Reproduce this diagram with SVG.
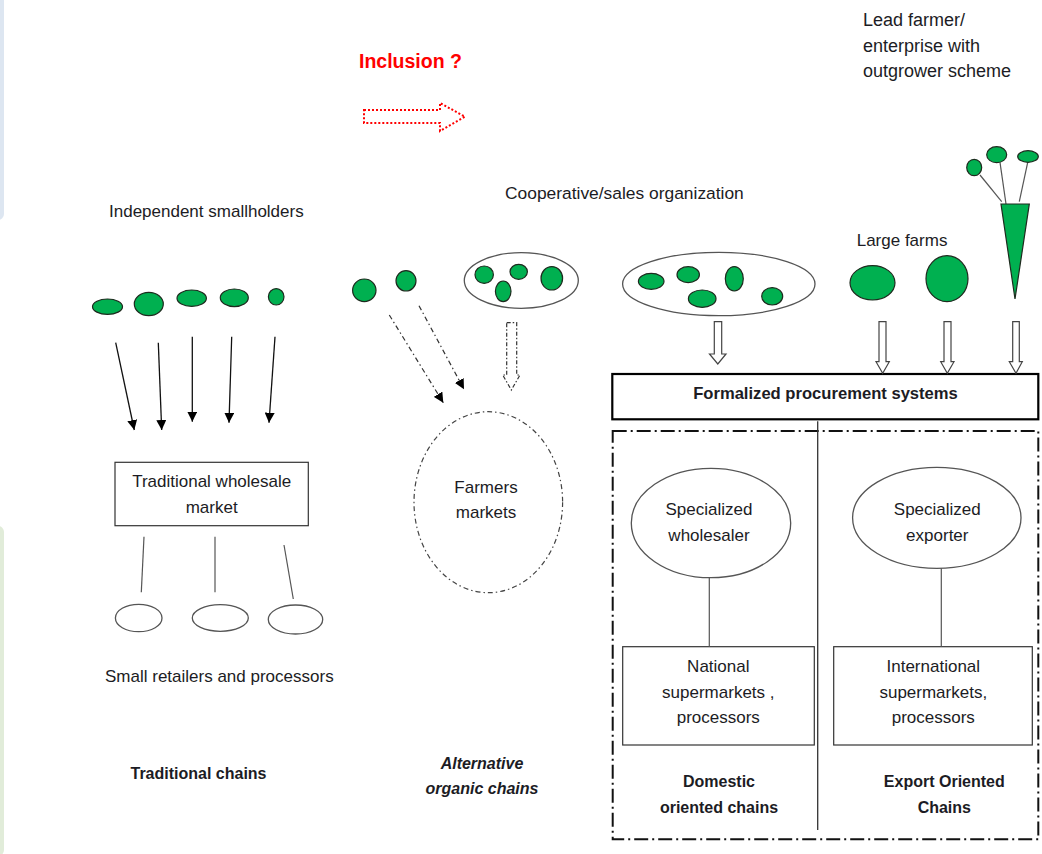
<svg xmlns="http://www.w3.org/2000/svg" width="1042" height="854" viewBox="0 0 1042 854">
<style>
  text { font-family: "Liberation Sans", Arial, sans-serif; font-size: 17px; fill: #1c1c24; }
  .b { font-weight: bold; font-size: 16px; }
  .bi { font-weight: bold; font-style: italic; font-size: 16px; }
  .red { fill: #ff0000; font-weight: bold; font-size: 19.5px; }
  .farm { fill: #00b050; stroke: #1e2a1e; stroke-width: 1.2; }
  .grp { fill: #ffffff; stroke: #555555; stroke-width: 1.3; }
  .box { fill: #ffffff; stroke: #333333; stroke-width: 1.2; }
  .conn { stroke: #111111; stroke-width: 1.3; fill: none; }
  .thin { stroke: #555555; stroke-width: 1.2; fill: none; }
  .dd { stroke: #333333; stroke-width: 1.2; fill: none; stroke-dasharray: 5 3 1.5 3; }
  .hollow { fill: #ffffff; stroke: #444444; stroke-width: 1.2; }
</style>
<defs>
  <marker id="tri" viewBox="0 0 10 10" refX="10" refY="5" markerWidth="10" markerHeight="10" markerUnits="userSpaceOnUse" orient="auto">
    <path d="M0,0 L10,5 L0,10 Z" fill="#000000"/>
  </marker>
</defs>

<!-- background side panels -->
<rect x="-12" y="-10" width="16" height="230" rx="6" fill="#dde6f1"/>
<rect x="-12" y="526" width="16" height="330" rx="6" fill="#e1ecd9"/>

<!-- Inclusion -->
<g id="inclusion">
  <text class="red" x="359" y="68">Inclusion ?</text>
  <path d="M364,110 L440,110 L440,103 L465,116.7 L440,131 L440,123 L364,123 Z" fill="none" stroke="#ff0000" stroke-width="2" stroke-dasharray="2 2"/>
</g>

<!-- Independent smallholders -->
<g id="smallholders">
  <text x="109" y="217">Independent smallholders</text>
  <ellipse class="farm" cx="107.5" cy="306.7" rx="15" ry="7.7"/>
  <ellipse class="farm" cx="148.8" cy="304" rx="14.5" ry="11.7"/>
  <ellipse class="farm" cx="191.7" cy="298.2" rx="14.7" ry="8.2"/>
  <ellipse class="farm" cx="234.3" cy="297.8" rx="14" ry="8.8"/>
  <ellipse class="farm" cx="276.2" cy="296.8" rx="7.8" ry="8.2"/>
</g>

<!-- Individual farmers for organic -->
<g id="organic-farmers">
  <ellipse class="farm" cx="364.3" cy="290.3" rx="11.7" ry="11.3"/>
  <ellipse class="farm" cx="406" cy="280.8" rx="10" ry="10.2"/>
</g>

<!-- Small cooperative -->
<g id="coop-small">
  <ellipse class="grp" cx="521.3" cy="280.5" rx="57" ry="27.8"/>
  <ellipse class="farm" cx="484.2" cy="274.7" rx="9.2" ry="8.7"/>
  <ellipse class="farm" cx="518.7" cy="271.8" rx="8.7" ry="7.5"/>
  <ellipse class="farm" cx="503.2" cy="291.3" rx="7.8" ry="10.3"/>
  <ellipse class="farm" cx="551.8" cy="278.3" rx="10.8" ry="11.7"/>
</g>

<!-- Large cooperative -->
<g id="coop-large">
  <text x="505" y="199" style="font-size:17.4px">Cooperative/sales organization</text>
  <ellipse class="grp" cx="718.8" cy="284" rx="96.2" ry="31.7"/>
  <ellipse class="farm" cx="651.2" cy="281.3" rx="12.8" ry="8"/>
  <ellipse class="farm" cx="688.2" cy="274.7" rx="11.2" ry="8"/>
  <ellipse class="farm" cx="734.3" cy="278.8" rx="9" ry="12.2"/>
  <ellipse class="farm" cx="702.2" cy="298.7" rx="13.8" ry="8.7"/>
  <ellipse class="farm" cx="772.2" cy="296.3" rx="10.5" ry="8.7"/>
</g>

<!-- Large farms -->
<g id="large-farms">
  <text x="856.7" y="246">Large farms</text>
  <ellipse class="farm" cx="872.5" cy="282.8" rx="22.5" ry="17.2"/>
  <ellipse class="farm" cx="947" cy="278.7" rx="21" ry="23"/>
</g>

<!-- Lead farmer / outgrower -->
<g id="lead-farmer">
  <text x="863" y="26" style="font-size:18px">Lead farmer/</text>
  <text x="863" y="51.7" style="font-size:18px">enterprise with</text>
  <text x="863" y="77.3" style="font-size:18px">outgrower scheme</text>
  <line class="thin" x1="980" y1="175" x2="1001.7" y2="201.7"/>
  <line class="thin" x1="1000" y1="162.3" x2="1006" y2="204"/>
  <line class="thin" x1="1027.7" y1="162.3" x2="1019.3" y2="201.7"/>
  <ellipse class="farm" cx="974.2" cy="167.5" rx="7.5" ry="8.2"/>
  <ellipse class="farm" cx="996.7" cy="154.7" rx="10" ry="8"/>
  <ellipse class="farm" cx="1028" cy="156.5" rx="10.3" ry="5.8"/>
  <path class="farm" d="M1001,204 L1029.3,204 L1015,299 Z"/>
</g>

<!-- Traditional wholesale market -->
<g id="wholesale-market">
  <rect class="box" x="115" y="462.3" width="193.3" height="63.4"/>
  <text x="211.7" y="486.7" text-anchor="middle">Traditional wholesale</text>
  <text x="211.7" y="512.7" text-anchor="middle">market</text>
</g>

<!-- Small retailers -->
<g id="small-retailers">
  <ellipse class="grp" cx="138.7" cy="618" rx="23.3" ry="13.7"/>
  <ellipse class="grp" cx="220.3" cy="618" rx="28" ry="13.3"/>
  <ellipse class="grp" cx="295.5" cy="619.5" rx="27.2" ry="14.5"/>
  <text x="105" y="682">Small retailers and processors</text>
</g>

<!-- Farmers markets -->
<g id="farmers-markets">
  <ellipse cx="488.3" cy="502.2" rx="74.3" ry="90.5" fill="none" stroke="#444444" stroke-width="1.2" stroke-dasharray="5 3 1.5 3"/>
  <text x="486" y="493.3" text-anchor="middle">Farmers</text>
  <text x="486" y="518.3" text-anchor="middle">markets</text>
</g>

<!-- Formalized procurement -->
<g id="formalized">
  <rect x="612.3" y="374" width="426" height="45.3" fill="#ffffff" stroke="#000000" stroke-width="2.2"/>
  <text class="b" x="825.5" y="399.3" text-anchor="middle" style="font-size:16.6px">Formalized procurement systems</text>
</g>

<!-- Modern chains frame -->
<g id="modern-frame">
  <rect x="612.7" y="431" width="425.6" height="408.3" fill="none" stroke="#111111" stroke-width="2" stroke-dasharray="14 4 2 4"/>
  <line x1="817.7" y1="421.3" x2="817.7" y2="830" stroke="#333333" stroke-width="1.3"/>
</g>

<g id="specialized-wholesaler">
  <ellipse class="grp" cx="711" cy="523" rx="79.7" ry="54.7"/>
  <text x="709" y="515" text-anchor="middle">Specialized</text>
  <text x="709" y="540.7" text-anchor="middle">wholesaler</text>
</g>

<g id="specialized-exporter">
  <ellipse class="grp" cx="936.8" cy="517.8" rx="84.2" ry="50.5"/>
  <text x="937.3" y="515" text-anchor="middle">Specialized</text>
  <text x="937.3" y="540.7" text-anchor="middle">exporter</text>
</g>

<g id="national-supermarkets">
  <rect class="box" x="622.7" y="646.7" width="191.6" height="98.3"/>
  <text x="718.3" y="671.7" text-anchor="middle">National</text>
  <text x="718.3" y="697.7" text-anchor="middle">supermarkets ,</text>
  <text x="718.3" y="723.3" text-anchor="middle">processors</text>
</g>

<g id="international-supermarkets">
  <rect class="box" x="833.7" y="646.7" width="198.6" height="98.3"/>
  <text x="933.3" y="671.7" text-anchor="middle">International</text>
  <text x="933.3" y="697.7" text-anchor="middle">supermarkets,</text>
  <text x="933.3" y="723.3" text-anchor="middle">processors</text>
</g>

<!-- chain labels -->
<g id="label-traditional">
  <text class="b" x="198.5" y="779" text-anchor="middle">Traditional chains</text>
</g>
<g id="label-alternative">
  <text class="bi" x="482" y="769" text-anchor="middle">Alternative</text>
  <text class="bi" x="482" y="794" text-anchor="middle">organic chains</text>
</g>
<g id="label-domestic">
  <text class="b" x="719" y="787.3" text-anchor="middle">Domestic</text>
  <text class="b" x="719" y="813.3" text-anchor="middle">oriented chains</text>
</g>
<g id="label-export">
  <text class="b" x="944.3" y="787.3" text-anchor="middle">Export Oriented</text>
  <text class="b" x="944.3" y="813.3" text-anchor="middle">Chains</text>
</g>

<!-- Connectors -->
<g id="connectors">
  <line class="conn" x1="115.7" y1="342.7" x2="134.3" y2="430" marker-end="url(#tri)"/>
  <line class="conn" x1="158.3" y1="342.7" x2="161.7" y2="430" marker-end="url(#tri)"/>
  <line class="conn" x1="192.3" y1="336.7" x2="192.3" y2="421.7" marker-end="url(#tri)"/>
  <line class="conn" x1="231.7" y1="336.7" x2="229" y2="422.7" marker-end="url(#tri)"/>
  <line class="conn" x1="275" y1="336.7" x2="269" y2="422.7" marker-end="url(#tri)"/>

  <line class="thin" x1="144" y1="536.7" x2="141.3" y2="592.3"/>
  <line class="thin" x1="215" y1="536.7" x2="215" y2="592.3"/>
  <line class="thin" x1="284" y1="545" x2="293.3" y2="599"/>

  <line class="dd" x1="389.3" y1="315" x2="443.3" y2="402.7" marker-end="url(#tri)"/>
  <line class="dd" x1="419" y1="305.7" x2="464" y2="389.3" marker-end="url(#tri)"/>
  <path d="M506.7,322.7 L516.7,322.7 L516.7,375 L520,375 L511.3,390 L502.7,375 L506.7,375 Z" fill="#ffffff" stroke="#333333" stroke-width="1.2" stroke-dasharray="4 2 1.5 2"/>

  <path class="hollow" d="M714.3,321.7 L721.7,321.7 L721.7,354 L726,354 L717.8,364 L709.5,354 L714.3,354 Z"/>
  <path class="hollow" d="M879,321.7 L886,321.7 L886,361.7 L889.3,361.7 L882.7,373.3 L876,361.7 L879,361.7 Z"/>
  <path class="hollow" d="M944,321.7 L951,321.7 L951,361.7 L954,361.7 L947.3,373.3 L940.7,361.7 L944,361.7 Z"/>
  <path class="hollow" d="M1012.7,321.7 L1019.3,321.7 L1019.3,361.7 L1022.3,361.7 L1016,373.3 L1009.3,361.7 L1012.7,361.7 Z"/>

  <line class="thin" x1="709.3" y1="577.7" x2="709.3" y2="646.7"/>
  <line class="thin" x1="941.3" y1="568.3" x2="941.3" y2="646.7"/>
</g>
</svg>
